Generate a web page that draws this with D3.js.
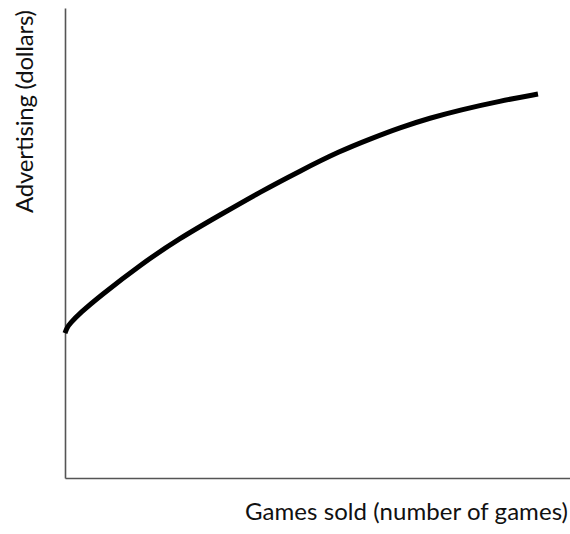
<!DOCTYPE html>
<html>
<head>
<meta charset="utf-8">
<script src="https://cdn.jsdelivr.net/npm/d3@7"></script>
<style>
  html, body { margin: 0; padding: 0; background: #fff; }
  svg { display: block; }
  text { font-family: "Lato", "Open Sans", sans-serif; fill: #111; }
</style>
</head>
<body>
<script>
// Data (abstract units; axes have no ticks)
const gamesSold   = [0, 0.40, 0.99, 2.97, 6.93, 14.85, 22.77, 30.69, 38.61, 46.53, 54.46, 60.40, 66.34, 72.28, 78.22, 86.14, 93.66];
const advertising = [30.85, 32.0, 32.87, 35.11, 38.72, 45.32, 51.06, 55.96, 60.85, 65.32, 69.57, 72.13, 74.57, 76.60, 78.30, 80.21, 81.70];
const xLabel = "Games sold (number of games)";
const yLabel = "Advertising (dollars)";

const W = 570, H = 534;
const svg = d3.select("body").append("svg").attr("width", W).attr("height", H);

const x = d3.scaleLinear().domain([0, 100]).range([65, 570]);
const y = d3.scaleLinear().domain([0, 100]).range([478, 8]);

// axes (no ticks)
svg.append("g").attr("transform", `translate(0,${y(0)})`)
  .call(d3.axisBottom(x).tickValues([]).tickSizeOuter(0))
  .call(g => g.select(".domain").attr("stroke", "#555").attr("stroke-width", 1.6));
svg.append("g").attr("transform", `translate(${x(0)},0)`)
  .call(d3.axisLeft(y).tickValues([]).tickSizeOuter(0))
  .call(g => g.select(".domain").attr("stroke", "#555").attr("stroke-width", 1.6));

const pts = gamesSold.map((g, i) => [g, advertising[i]]);
const line = d3.line().x(d => x(d[0])).y(d => y(d[1])).curve(d3.curveBasis);
svg.append("path").datum(pts)
  .attr("d", line)
  .attr("fill", "none")
  .attr("stroke", "#000")
  .attr("stroke-width", 5);

svg.append("text")
  .attr("x", 568).attr("y", 519.5)
  .attr("text-anchor", "end")
  .attr("font-size", 24)
  .attr("textLength", 323)
  .attr("lengthAdjust", "spacing")
  .text(xLabel);

svg.append("text")
  .attr("transform", "translate(33,111.5) rotate(-90)")
  .attr("text-anchor", "middle")
  .attr("font-size", 24)
  .attr("textLength", 203)
  .attr("lengthAdjust", "spacing")
  .text(yLabel);
</script>
</body>
</html>
